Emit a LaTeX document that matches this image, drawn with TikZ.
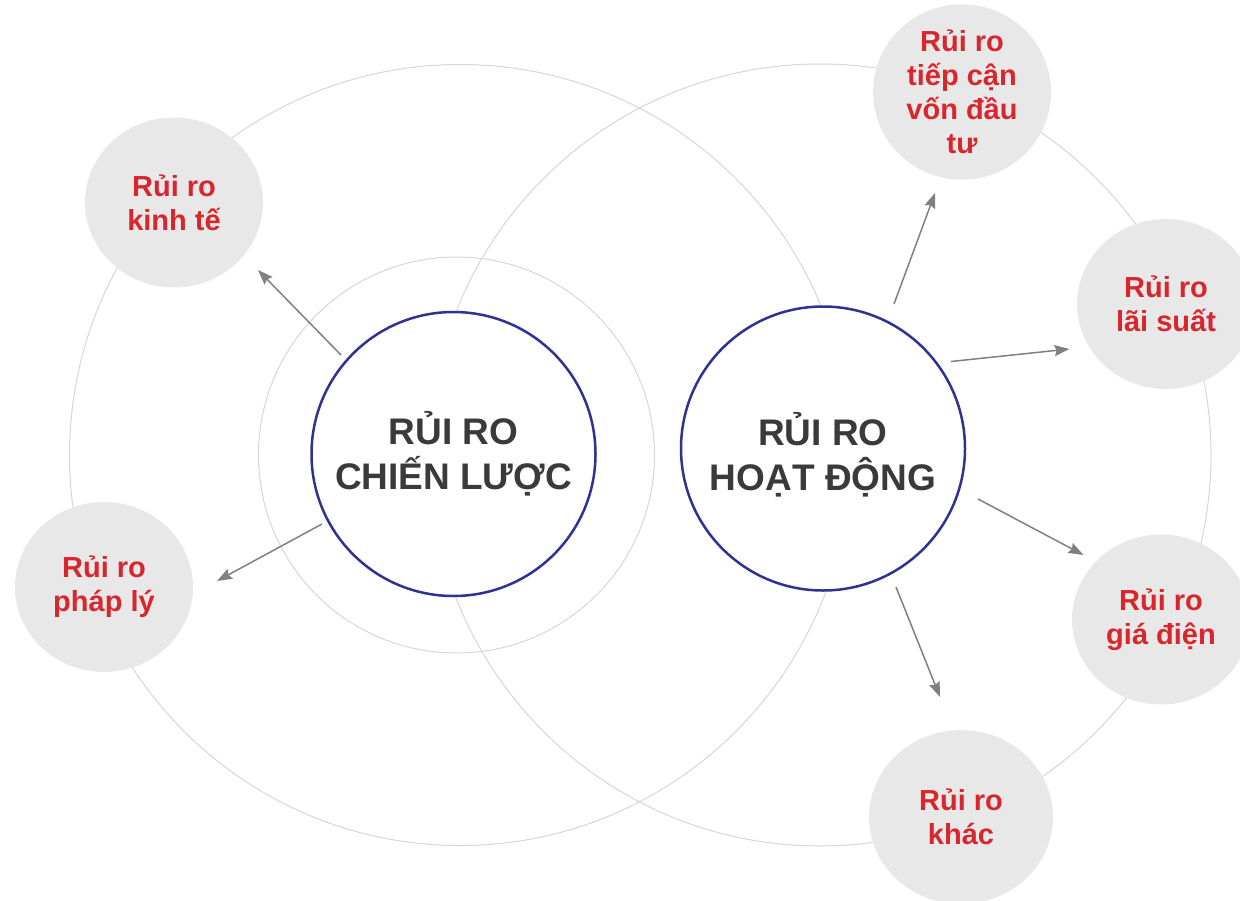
\documentclass[tikz,border=0pt]{standalone}
\usepackage{fontspec}
\setmainfont{Liberation Sans}
\usetikzlibrary{arrows.meta,shapes.geometric}
\definecolor{riskred}{RGB}{216,38,46}
\definecolor{satgray}{RGB}{232,232,232}
\definecolor{navy}{RGB}{46,50,146}
\definecolor{ringgray}{RGB}{214,214,214}
\definecolor{arrowgray}{RGB}{128,128,128}
\definecolor{coretext}{RGB}{58,58,58}
\begin{document}
\begin{tikzpicture}[x=1pt,y=-1pt,
  ring/.style={draw=ringgray, line width=1pt},
  coretxt/.style={align=center, text=coretext, font=\fontsize{37}{45}\selectfont\bfseries},
  core/.style={circle, draw=navy, line width=2.5pt, fill=white, minimum size=284pt, inner sep=0pt, coretxt},
  sat/.style={ellipse, fill=satgray, minimum width=178pt, minimum height=170pt, inner sep=0pt, align=center, text=riskred, font=\fontsize{29}{34}\selectfont\bfseries},
  arr/.style={draw=arrowgray, line width=1.5pt, -{Stealth[length=15pt,width=11pt,inset=2pt]}}]
\useasboundingbox (0,0) rectangle (1240,900);
% background rings
\coordinate (cL) at (460,455);
\coordinate (cS) at (456.5,455);
\coordinate (cR) at (820,455);
\draw[ring] (cL) circle[radius=390.5pt];
\draw[ring] (cR) circle[radius=391pt];
\draw[ring] (cS) circle[radius=198pt];
% satellites
\node[sat] (econ) at (174,202.5) {Rủi ro\\kinh tế};
\node[sat] (legal) at (104,587) {Rủi ro\\pháp lý};
\node[sat] (capital) at (962,92) {Rủi ro\\tiếp cận\\vốn đầu\\tư};
\node[sat] (rate) at (1166,304) {Rủi ro\\lãi suất};
\node[sat] (price) at (1161,619.5) {Rủi ro\\giá điện};
\node[sat, minimum width=184pt, minimum height=174pt] (other) at (961,817) {Rủi ro\\khác};
% core circles
\node[core] (strat) at (453.5,454) {RỦI RO\\CHIẾN LƯỢC};
\node[core, label={[coretxt, yshift=-6pt]center:{RỦI RO\\HOẠT ĐỘNG}}] (oper) at (823,448.5) {};
% arrows
\coordinate (t1) at (341,355);   \coordinate (h1) at (258,270);
\coordinate (t2) at (322,524);   \coordinate (h2) at (217,581);
\coordinate (t3) at (894,304);   \coordinate (h3) at (935,193);
\coordinate (t4) at (951,361.5); \coordinate (h4) at (1069.5,349);
\coordinate (t5) at (978,499);   \coordinate (h5) at (1083.5,555);
\coordinate (t6) at (896,587);   \coordinate (h6) at (940,697);
\draw[arr] (t1) -- (h1);
\draw[arr] (t2) -- (h2);
\draw[arr] (t3) -- (h3);
\draw[arr] (t4) -- (h4);
\draw[arr] (t5) -- (h5);
\draw[arr] (t6) -- (h6);
\end{tikzpicture}
\end{document}
